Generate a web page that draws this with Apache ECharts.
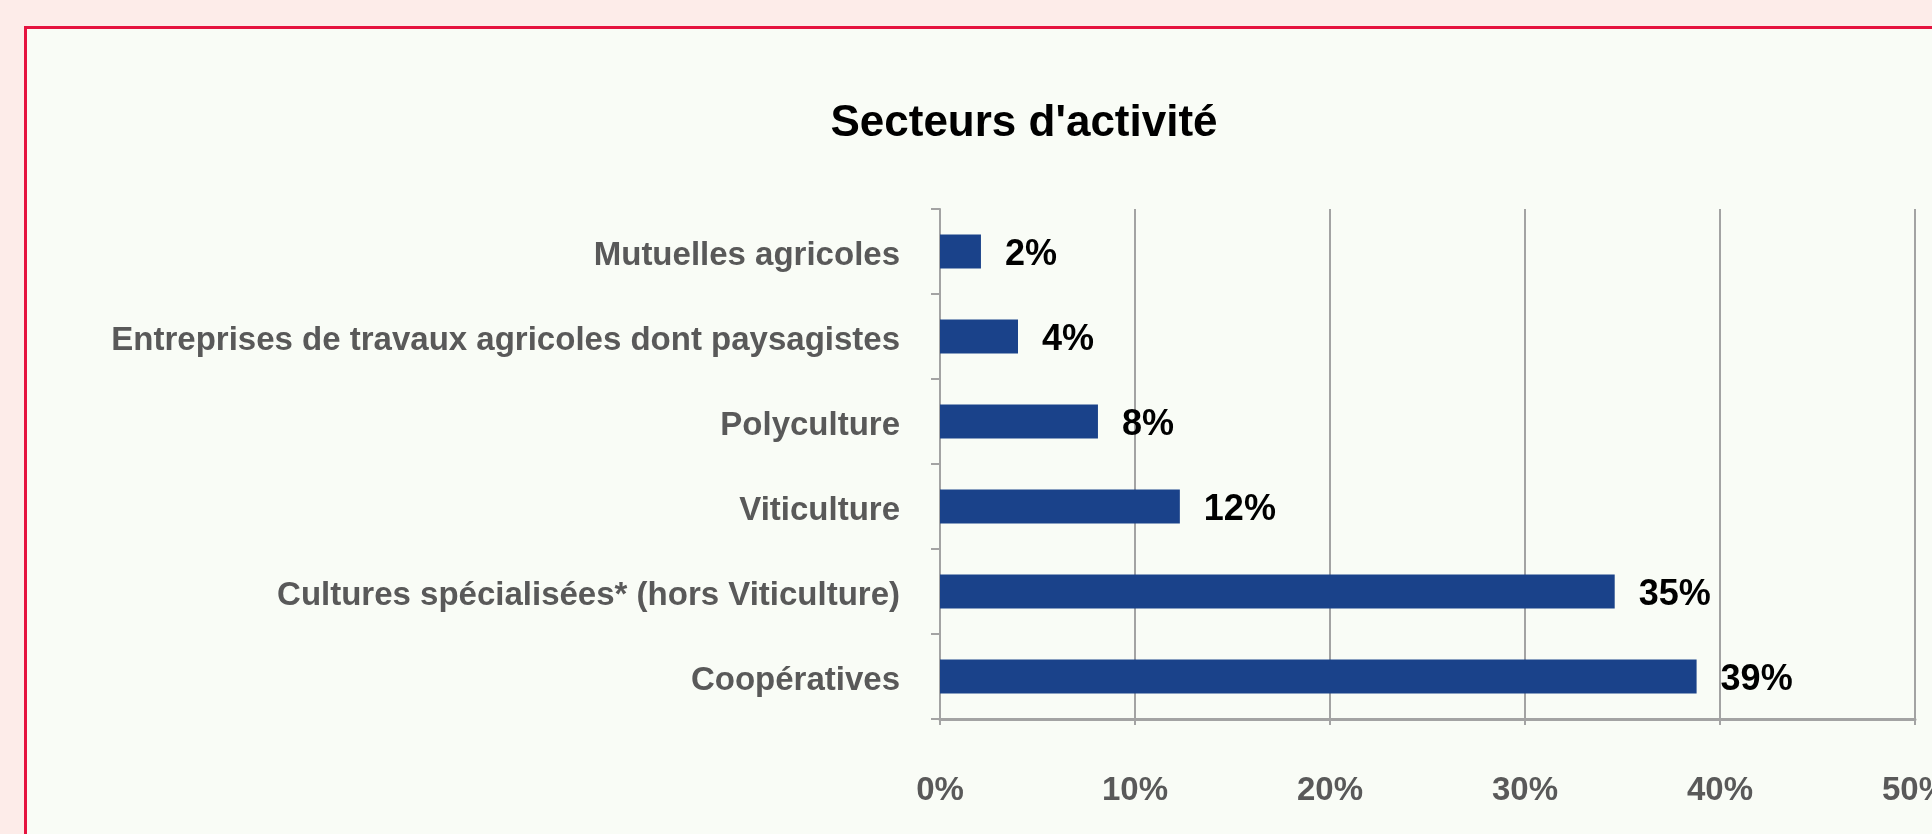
<!DOCTYPE html>
<html>
<head>
<meta charset="utf-8">
<script src="https://cdn.jsdelivr.net/npm/echarts@6/dist/echarts.min.js"></script>
<style>
  html, body { margin:0; padding:0; width:100%; height:100%; overflow:hidden; background:#fdece9; }
  #frame { position:absolute; left:24px; top:26px; width:2000px; height:900px; border:3px solid #e5133f; background:#f9fcf6; box-sizing:border-box; }
  #chart { position:absolute; left:0; top:0; width:1932px; height:834px; }
</style>
</head>
<body>
<div id="frame"></div>
<div id="chart"></div>
<script>
const titleText = "Secteurs d'activité";
const categories = [
  'Coopératives',
  'Cultures spécialisées* (hors Viticulture)',
  'Viticulture',
  'Polyculture',
  'Entreprises de travaux agricoles dont paysagistes',
  'Mutuelles agricoles'
];
const values = [38.8, 34.6, 12.3, 8.1, 4.0, 2.1];
const valueLabels = ['39%', '35%', '12%', '8%', '4%', '2%'];
const xTicks = [0, 10, 20, 30, 40, 50];

const FONT = '"Liberation Sans", Arial, sans-serif';
const chart = echarts.init(document.getElementById('chart'), null, {renderer: 'canvas'});
chart.setOption({
  backgroundColor: 'transparent',
  animation: false,
  title: {
    text: titleText,
    left: 1019, textAlign: 'center',
    top: 97,
    textStyle: { fontFamily: FONT, fontSize: 44, fontWeight: 'bold', color: '#000' }
  },
  grid: { left: 940, right: 17, top: 209, bottom: 115, containLabel: false, outerBoundsMode: 'none' },
  xAxis: {
    type: 'value', min: xTicks[0], max: xTicks[xTicks.length - 1], interval: 10,
    axisLine: { show: true, lineStyle: { color: '#a3a3a3', width: 3 } },
    axisTick: { show: true, length: 6, lineStyle: { color: '#a3a3a3', width: 2 } },
    splitLine: { show: true, lineStyle: { color: '#a3a3a3', width: 2 } },
    axisLabel: { formatter: '{value}%', margin: 55, fontFamily: FONT, fontSize: 33, fontWeight: 'bold', color: '#595959' }
  },
  yAxis: {
    type: 'category', data: categories,
    axisLine: { show: true, lineStyle: { color: '#a3a3a3', width: 2 } },
    axisTick: { show: true, length: 9, lineStyle: { color: '#a3a3a3', width: 2 } },
    axisLabel: { margin: 40, verticalAlign: 'top', lineHeight: 8, fontFamily: FONT, fontSize: 33, fontWeight: 'bold', color: '#595959' }
  },
  series: [{
    type: 'bar', data: values, barWidth: 34,
    itemStyle: { color: '#1a428a' },
    label: {
      show: true, position: 'right', distance: 24, offset: [0, 4],
      formatter: p => valueLabels[p.dataIndex],
      fontFamily: FONT, fontSize: 36, fontWeight: 'bold', color: '#000'
    }
  }]
});
</script>
</body>
</html>
